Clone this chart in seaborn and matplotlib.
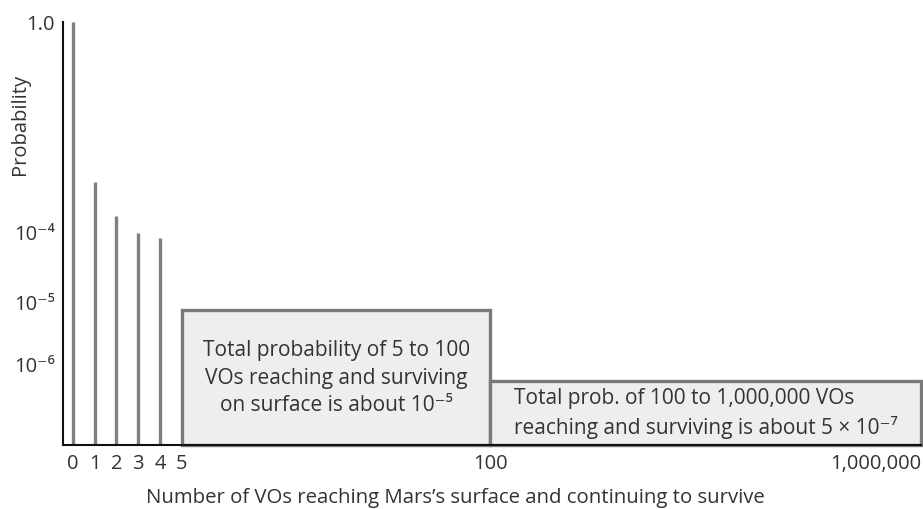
import numpy as np
import matplotlib
matplotlib.use("Agg")
import matplotlib.pyplot as plt
import seaborn as sns

# ---------------------------------------------------------
# Data
# ---------------------------------------------------------
spike_counts = [0, 1, 2, 3, 4]
spike_probs = [1.0, 9e-4, 2e-4, 9.4e-5, 8e-5]

box_starts = [5, 100]
box_ends = [100, 1_000_000]
box_probs = [7.4e-6, 5.4e-7]
box_texts = [
    "Total probability of 5 to 100\nVOs reaching and surviving\non surface is about 10\u207b\u2075",
    "Total prob. of 100 to 1,000,000 VOs\nreaching and surviving is about 5 \u00d7 10\u207b\u2077",
]

x_ticks = [0, 1, 2, 3, 4, 5, 100, 1_000_000]
x_ticklabels = ["0", "1", "2", "3", "4", "5", "100", "1,000,000"]
y_ticks = [1e-6, 1e-5, 1e-4, 1.0]
y_ticklabels = ["10\u207b\u2076", "10\u207b\u2075", "10\u207b\u2074", "1.0"]

# schematic (broken) axis scales used by the original figure
X_ANCHOR = [-0.46, 0, 5, 100, 1_000_000]
X_SPAN = [0, 10, 118.5, 427, 857]
Y_ANCHOR = [-7.3, -6, -5, -4, 0]  # log10 of probability
Y_SPAN = [0, 81, 143, 213, 422]


def x_fwd(x):
    return np.interp(x, X_ANCHOR, X_SPAN)


def x_inv(p):
    return np.interp(p, X_SPAN, X_ANCHOR)


def y_fwd(y):
    y = np.clip(np.asarray(y, dtype=float), 1e-12, None)
    return np.interp(np.log10(y), Y_ANCHOR, Y_SPAN)


def y_inv(p):
    return 10 ** np.interp(p, Y_SPAN, Y_ANCHOR)


sns.set_theme(style="white")
plt.rcParams["font.family"] = ["Open Sans", "DejaVu Sans"]
text_color = "#333333"
bar_color = "#808080"

fig = plt.figure(figsize=(9.23, 5.10), dpi=100)
ax = fig.add_axes([63 / 923, 64 / 510, 858 / 923, 423 / 510])
ax.set_xscale("function", functions=(x_fwd, x_inv))
ax.set_yscale("function", functions=(y_fwd, y_inv))

y_floor = 10 ** Y_ANCHOR[0]
ax.set_xlim(X_ANCHOR[0], X_ANCHOR[-1])
ax.set_ylim(y_floor, 1.0)

# single-count probabilities as thin spikes
ax.vlines(spike_counts, y_floor, spike_probs, color=bar_color, linewidth=2.4, zorder=2)

# aggregated ranges as boxes
ax.bar(
    box_starts,
    [p - y_floor for p in box_probs],
    width=[e - s for s, e in zip(box_starts, box_ends)],
    bottom=y_floor,
    align="edge",
    color="#eeeeee",
    edgecolor="#7a7a7a",
    linewidth=2.4,
    clip_on=False,
    zorder=2,
)

for s, e, p, txt, ma in zip(box_starts, box_ends, box_probs, box_texts, ["center", "left"]):
    xc = x_inv((x_fwd(s) + x_fwd(e)) / 2)
    yc = y_inv((y_fwd(y_floor) + y_fwd(p)) / 2)
    ax.text(xc, yc, txt, ha="center", va="center", multialignment=ma,
            fontsize=15, color=text_color, linespacing=1.4, zorder=3)

ax.set_xticks(x_ticks)
ax.set_xticklabels(x_ticklabels)
ax.get_xticklabels()[-1].set_horizontalalignment("right")
ax.set_yticks(y_ticks)
ax.set_yticklabels(y_ticklabels)
ax.minorticks_off()
ax.tick_params(axis="both", length=0, labelsize=14.5, colors=text_color)
ax.tick_params(axis="x", pad=6)
ax.tick_params(axis="y", pad=6)

ax.set_xlabel("Number of VOs reaching Mars\u2019s surface and continuing to survive",
              fontsize=14.7, color=text_color)
ax.xaxis.set_label_coords(0.457, -0.1)
ax.set_ylabel("Probability", fontsize=14.5, color=text_color)
ax.yaxis.set_label_coords(-0.038, 0.76)

sns.despine(ax=ax)
for side in ["left", "bottom"]:
    ax.spines[side].set_color("#111111")
    ax.spines[side].set_linewidth(1.5)
    ax.spines[side].set_zorder(4)

fig.savefig("out.png", dpi=100)
